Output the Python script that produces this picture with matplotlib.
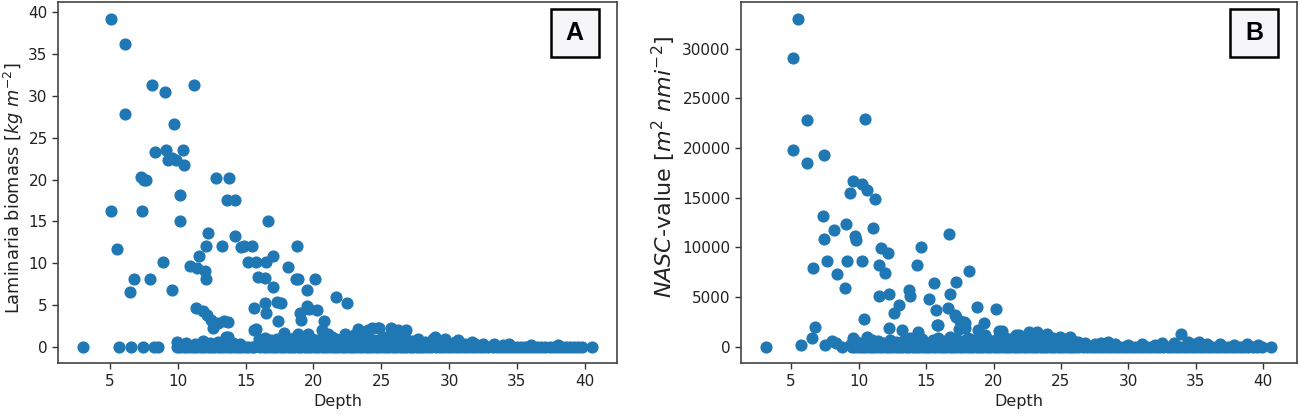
import matplotlib
matplotlib.use("Agg")
import matplotlib.pyplot as plt
from matplotlib.patches import Rectangle

# ---------------- Panel A data: depth vs Laminaria biomass ----------------
a_depth = [5.12, 6.13, 8.1, 9.06, 11.2, 6.13, 9.75,
           8.35, 9.15, 9.58, 9.3, 9.87, 10.41, 10.48,
           7.29, 7.53, 7.68, 12.83, 13.81, 10.2, 13.6, 14.2,
           5.12, 7.34, 10.17, 16.67, 12.2, 12.1, 13.25, 14.2,
           14.67, 14.9, 15.5, 5.52, 18.8, 11.6, 8.9,
           10.93, 11.43, 12.04, 12.09, 15.17, 15.78, 16.52, 17.0,
           18.1, 6.75, 7.98, 6.5, 9.58, 15.9, 16.45, 18.7, 18.9,
           20.1, 17.06, 19.55, 21.7, 22.5,
           11.35, 11.85, 12.14, 12.46, 12.58, 12.95, 13.44, 13.69,
           15.6, 15.66, 16.45, 17.3, 17.6, 16.52, 17.38, 17.82,
           18.98, 19.1, 19.5, 19.7, 20.3, 20.8, 20.6, 18.9,
           13.7, 15.78, 19.6, 21.07, 22.3, 23.3, 24.03, 24.3, 24.77, 24.8, 25.75,
           26.25, 26.86, 23.0, 22.4, 21.4, 27.7, 28.95, 29.7, 30.68, 31.66,
           28.8, 30.4, 31.9, 33.3, 34.4]
a_biomass = [39.2, 36.2, 31.3, 30.5, 31.3, 27.8, 26.6,
             23.3, 23.5, 22.6, 22.3, 22.3, 23.5, 21.7,
             20.3, 20.0, 19.9, 20.2, 20.2, 18.2, 17.5, 17.5,
             16.2, 16.2, 15.1, 15.1, 13.6, 12.1, 12.1, 13.3,
             11.9, 12.1, 12.1, 11.7, 12.1, 10.9, 10.1,
             9.7, 9.4, 9.1, 8.1, 10.2, 10.2, 10.2, 10.9,
             9.6, 8.1, 8.1, 6.6, 6.8, 8.3, 8.2, 8.1, 8.1,
             8.1, 7.1, 6.8, 6.0, 5.3,
             4.7, 4.3, 3.8, 3.2, 2.2, 2.8, 3.1, 3.0,
             4.7, 2.0, 5.3, 5.4, 5.2, 4.0, 3.1, 1.7,
             4.0, 3.2, 4.9, 4.5, 4.4, 3.1, 2.0, 1.6,
             1.2, 2.1, 1.6, 1.6, 1.6, 2.1, 2.0, 2.2, 2.2, 2.2, 2.2,
             2.0, 2.0, 1.4, 1.2, 1.2, 1.0, 1.2, 1.0, 0.8, 0.6,
             0.9, 0.6, 0.4, 0.3, 0.3]

# low-biomass band (just above zero)
a_low_depth = [9.95, 10.6, 11.3, 11.9, 12.4, 13.0, 13.57, 14.1, 14.6, 16.0, 16.4,
               16.9, 17.3, 17.7, 18.2, 18.6, 19.1, 19.5, 19.9, 20.3, 20.8, 21.2,
               21.7, 22.0, 22.6, 23.1, 23.6, 24.1, 24.5, 25.0, 25.3, 25.9, 26.4,
               26.9, 27.3, 28.2, 28.6, 29.2, 30.0, 31.2, 32.5, 34.0, 36.0, 38.0]
a_low_biomass = [0.6, 0.5, 0.4, 0.7, 0.5, 0.6, 1.2, 0.5, 0.3, 0.9, 1.1,
                 0.8, 1.0, 0.6, 0.9, 1.1, 0.7, 0.9, 1.0, 0.8, 1.0, 0.9,
                 1.0, 0.8, 1.0, 0.9, 1.1, 1.0, 0.8, 1.0, 1.2, 0.9, 1.0,
                 0.8, 0.7, 0.6, 0.5, 0.5, 0.4, 0.3, 0.3, 0.2, 0.2, 0.2]

# zero-biomass stations
a_zero_depth = [3.06, 5.69, 6.55, 7.41, 8.23, 8.57, 9.95, 10.2, 10.45, 10.7, 10.95,
                11.2, 11.45, 11.7, 11.95, 12.2, 12.45, 12.7, 12.95, 13.2, 13.45,
                13.7, 13.95, 14.2, 14.45, 14.7, 14.95, 15.2, 15.45, 15.6, 16.1,
                16.35, 16.6, 16.85, 17.1, 17.35, 17.6, 17.85, 18.1, 18.35, 18.6,
                18.85, 19.1, 19.35, 19.6, 19.85, 20.1, 20.35, 20.6, 20.85, 21.1,
                21.35, 21.6, 21.85, 22.1, 22.35, 22.6, 22.85, 23.1, 23.35, 23.6,
                23.85, 24.1, 24.35, 24.6, 24.85, 25.1, 25.35, 25.6, 25.85, 26.1,
                26.35, 26.6, 26.85, 27.1, 27.35, 27.6, 27.85, 28.1, 28.4, 28.7,
                29.0, 29.3, 29.6, 29.9, 30.2, 30.5, 30.8, 31.1, 31.4, 31.7, 32.0,
                32.3, 32.6, 32.9, 33.2, 33.5, 33.8, 34.1, 34.4, 34.7, 35.0, 35.3,
                35.6, 35.9, 36.2, 36.5, 36.8, 37.1, 37.4, 37.7, 38.0, 38.3, 38.6,
                38.9, 39.2, 39.5, 39.8, 40.5]
a_zero_biomass = [0.0] * len(a_zero_depth)

# ---------------- Panel B data: depth vs NASC ----------------
b_depth = [5.54, 5.17, 6.21, 10.44, 5.12, 7.45, 6.16,
           9.62, 10.24, 10.61, 9.38, 11.23, 7.35, 8.14, 9.08, 9.75, 9.8, 11.03, 7.4,
           11.65, 12.2, 16.67, 14.64, 6.6, 7.65, 9.13, 10.24, 11.48, 11.97, 14.32,
           18.18, 8.43, 9.0, 15.6, 17.19, 11.48, 12.22, 13.76, 13.83, 16.74, 15.24,
           15.73, 16.62, 12.96, 12.59, 18.77, 20.15, 17.12, 17.54, 17.86, 17.42,
           17.9, 10.41, 6.78, 15.85, 19.27, 18.85, 19.39, 12.27, 13.21, 14.37, 20.6,
           6.58, 9.62, 10.6, 11.0, 8.02, 8.34, 8.76, 7.52, 5.72, 3.15, 21.7, 20.85,
           21.86, 22.6, 23.2, 23.97, 24.95, 25.7, 28.5, 32.46, 33.9, 35.2, 40.6,
           17.78, 17.24, 20.38, 15.79]
b_nasc = [33000, 29100, 22800, 22900, 19800, 19300, 18500,
          16700, 16400, 15800, 15500, 14900, 13200, 11800, 12400, 11200, 10800, 11950, 10900,
          9900, 9450, 11400, 10000, 7950, 8600, 8600, 8600, 8200, 7450, 8200,
          7600, 7300, 5950, 6400, 6550, 5150, 5300, 5700, 5150, 5300, 4800,
          3700, 3950, 4200, 3400, 4000, 3800, 3200, 2600, 2450, 1800,
          1900, 2800, 2050, 2200, 2450, 1700, 1200, 1900, 1700, 1450, 1600,
          850, 850, 1000, 700, 630, 370, 30, 200, 200, 0, 1200, 700,
          1200, 1450, 1450, 1250, 1000, 950, 530, 400, 1250, 530, 0,
          2530, 3030, 1630, 2200]

b_low_depth = [9.45, 9.9, 10.3, 10.9, 11.4, 11.8, 12.3, 12.8, 13.3, 13.8, 14.2,
               14.7, 15.1, 15.5, 15.9, 16.3, 16.8, 17.2, 17.7, 18.1, 18.5, 19.0,
               19.5, 19.9, 20.3, 20.8, 21.2, 21.6, 22.1, 22.5, 23.0, 23.5, 24.0,
               24.4, 24.9, 25.3, 25.8, 26.3, 26.8, 27.5, 28.0, 29.0, 30.0, 31.0,
               32.0, 33.4, 34.4, 34.8, 35.8, 36.8, 37.8, 38.8, 39.6]
b_low_nasc = [300, 500, 400, 300, 600, 400, 700, 500, 600, 900, 500,
              800, 400, 700, 900, 600, 1000, 800, 600, 900, 700, 1000,
              800, 600, 900, 1000, 800, 900, 1000, 800, 900, 1000, 800,
              900, 700, 800, 700, 500, 400, 300, 400, 300, 200, 300,
              200, 400, 500, 300, 300, 300, 200, 300, 200]

b_zero_depth = [9.5, 9.75, 10.0, 10.25, 10.5, 10.75, 11.0, 11.25, 11.5, 11.75,
                12.0, 12.25, 12.5, 12.75, 13.0, 13.25, 13.5, 13.75, 14.0, 14.25,
                14.5, 14.75, 15.0, 15.25, 15.5, 15.75, 16.0, 16.25, 16.5, 16.75,
                17.0, 17.25, 17.5, 17.75, 18.0, 18.25, 18.5, 18.75, 19.0, 19.25,
                19.5, 19.75, 20.0, 20.25, 20.5, 20.75, 21.0, 21.25, 21.5, 21.75,
                22.0, 22.25, 22.5, 22.75, 23.0, 23.25, 23.5, 23.75, 24.0, 24.25,
                24.5, 24.75, 25.0, 25.25, 25.5, 25.75, 26.0, 26.3, 26.6, 26.9,
                27.2, 27.5, 27.8, 28.1, 28.4, 28.7, 29.0, 29.3, 29.6, 29.9, 30.2,
                30.5, 30.8, 31.1, 31.4, 31.7, 32.0, 32.3, 32.6, 32.9, 33.2, 33.5,
                33.8, 34.1, 34.4, 34.7, 35.0, 35.3, 35.6, 35.9, 36.2, 36.5, 36.8,
                37.1, 37.4, 37.7, 38.0, 38.3, 38.6, 38.9, 39.2, 39.5, 39.9]
b_zero_nasc = [0] * len(b_zero_depth)

panel_labels = ["A", "B"]

# ---------------- Figure ----------------
plt.rcParams['font.family'] = ['DejaVu Sans']
plt.rcParams['font.size'] = 11
fig = plt.figure(figsize=(12.99, 4.15), dpi=100)
axA = fig.add_axes([0.0447, 0.1246, 0.4303, 0.8694])
axB = fig.add_axes([0.5704, 0.1246, 0.4278, 0.8694])

col = '#1f77b4'
ms = 60

all_a_x = a_zero_depth + a_low_depth + a_depth
all_a_y = a_zero_biomass + a_low_biomass + a_biomass
all_b_x = b_zero_depth + b_low_depth + b_depth
all_b_y = b_zero_nasc + b_low_nasc + b_nasc

axA.scatter(all_a_x, all_a_y, s=ms, color=col, edgecolors='face')
axB.scatter(all_b_x, all_b_y, s=ms, color=col, edgecolors='face')

axA.set_xlabel('Depth', fontsize=11.5, color='#222222')
axB.set_xlabel('Depth', fontsize=11.5, color='#222222')
axA.set_ylabel(r'Laminaria biomass [$kg\ m^{-2}$]', fontsize=12.8, color='#222222')
axB.set_ylabel(r'$NASC$-value [$m^{2}\ nmi^{-2}$]', fontsize=16, color='#222222')
axA.yaxis.set_label_coords(-0.058, 0.485)
axB.yaxis.set_label_coords(-0.113, 0.544)

axA.set_xticks([5, 10, 15, 20, 25, 30, 35, 40])
axB.set_xticks([5, 10, 15, 20, 25, 30, 35, 40])
axA.set_yticks([0, 5, 10, 15, 20, 25, 30, 35, 40])
axB.set_yticks([0, 5000, 10000, 15000, 20000, 25000, 30000])

for ax, lab in zip([axA, axB], panel_labels):
    for sp in ax.spines.values():
        sp.set_color('#444444')
        sp.set_linewidth(1.2)
    ax.tick_params(colors='#333333', labelcolor='#222222', labelsize=11, width=1.0, length=4)
    bw = 48 / (ax.get_position().width * 1299)
    bh = 48 / (ax.get_position().height * 415)
    cx, cy = 0.924, 0.915
    ax.add_patch(Rectangle((cx - bw / 2, cy - bh / 2), bw, bh, transform=ax.transAxes,
                           facecolor='#f6f6f8', edgecolor='black', linewidth=1.8, zorder=5))
    ax.text(cx, cy, lab, transform=ax.transAxes, ha='center', va='center',
            fontsize=18, fontweight='bold', family='Liberation Sans', zorder=6)

fig.savefig('out.png', dpi=100)
